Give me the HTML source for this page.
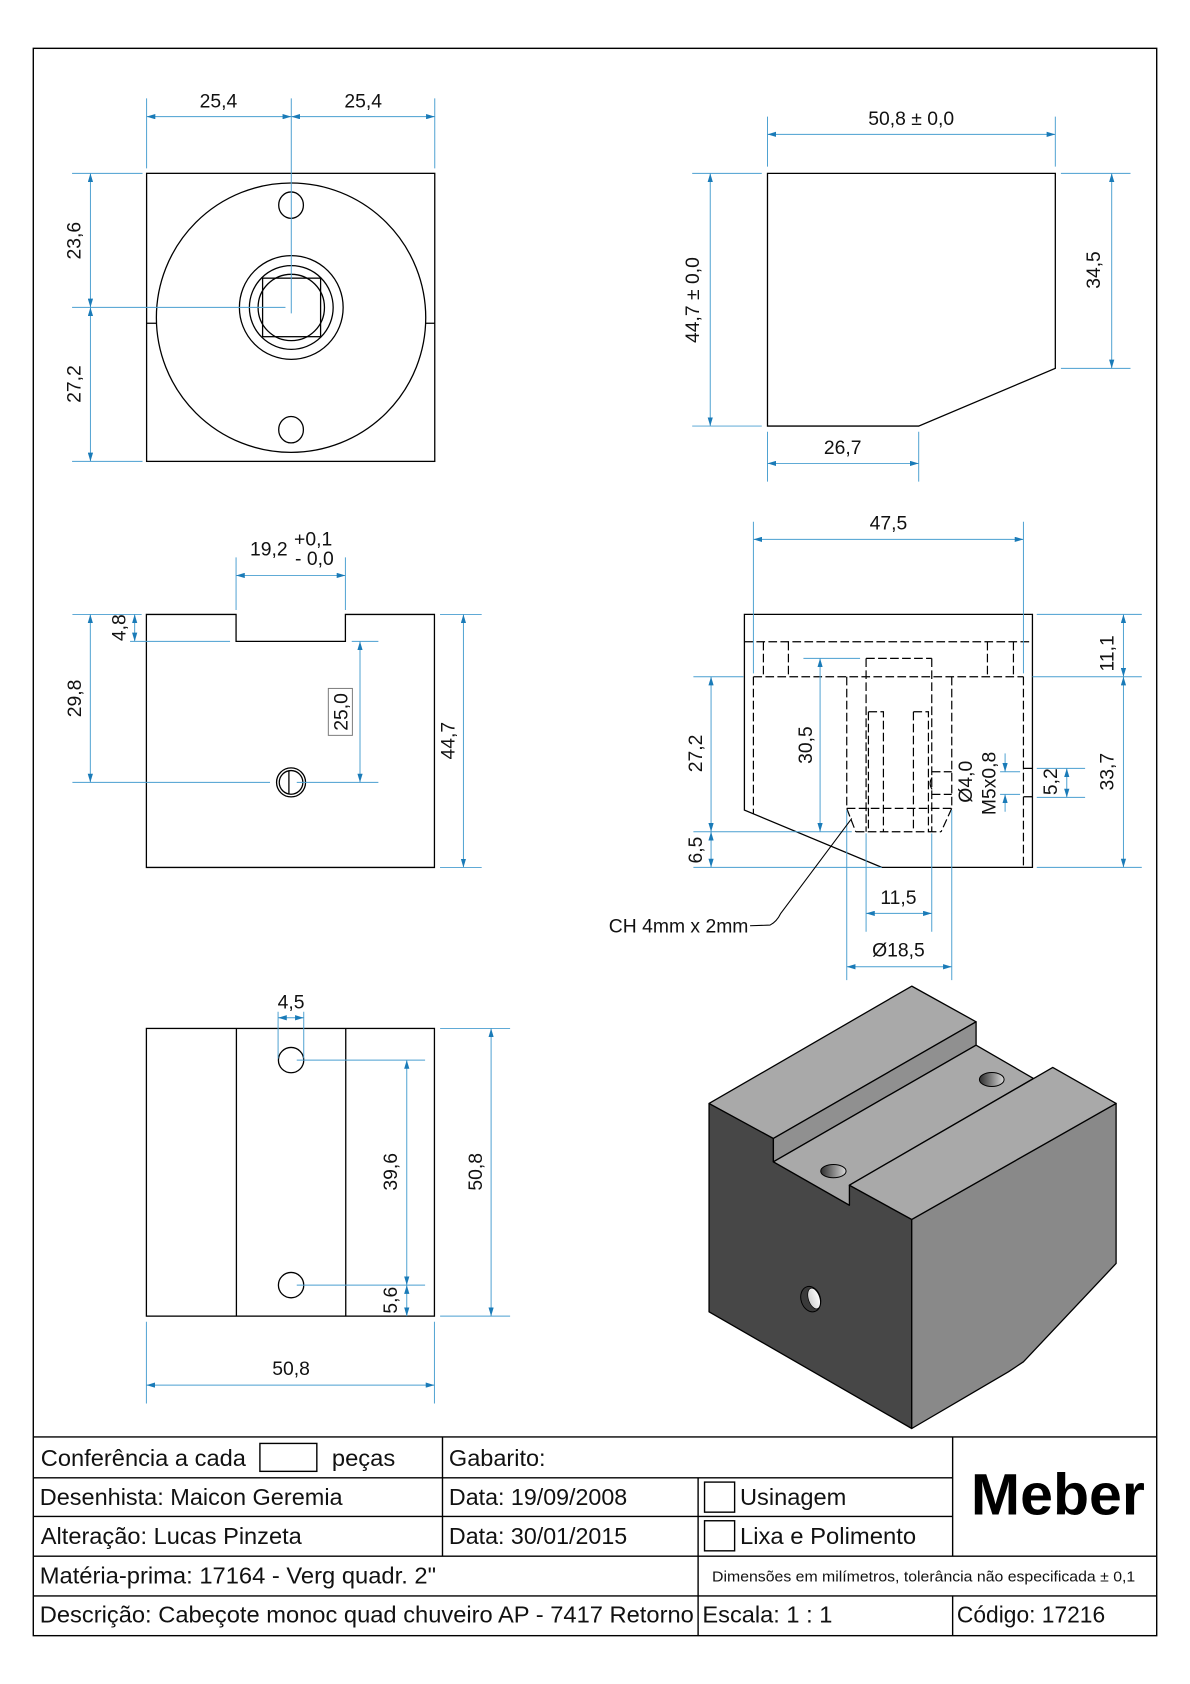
<!DOCTYPE html>
<html><head><meta charset="utf-8">
<style>
html,body{margin:0;padding:0;background:#fff;}
svg{display:block;}
text{font-family:"Liberation Sans",Arial,sans-serif;fill:#111;}
.k{fill:none;stroke:#000;stroke-width:1.2;}
.b{fill:none;stroke:#4a9fd0;stroke-width:0.9;}
.m{fill:none;stroke:#4a9fd0;stroke-width:0.9;marker-start:url(#a);marker-end:url(#a);}
.me{fill:none;stroke:#4a9fd0;stroke-width:0.9;marker-end:url(#a);}
.dt{font-size:18px;}
.tt{font-size:21.7px;}
</style></head><body>
<svg xmlns="http://www.w3.org/2000/svg" width="1190" height="1684" viewBox="0 0 1108 1568" preserveAspectRatio="none">
<defs>
<marker id="a" markerUnits="strokeWidth" markerWidth="9" markerHeight="5.4" viewBox="0 0 9 5.4" refX="9" refY="2.7" orient="auto-start-reverse"><path d="M0,0 L9,2.7 L0,5.4z" fill="#1a7bb8"/></marker>
<linearGradient id="hg" x1="0" y1="0" x2="1" y2="0"><stop offset="0" stop-color="#2e2e2e"/><stop offset="1" stop-color="#d8d8d8"/></linearGradient>
<linearGradient id="hg2" x1="0" y1="0" x2="1" y2="0"><stop offset="0" stop-color="#d0d0d0"/><stop offset="1" stop-color="#ffffff"/></linearGradient>
</defs>
<rect x="0" y="0" width="1108" height="1568" fill="#fff"/>

<!-- border -->
<rect x="31" y="45" width="1046" height="1478" fill="none" stroke="#000" stroke-width="1.3"/>

<!-- ===== VIEW 1 ===== -->
<rect x="136.5" y="161.4" width="268.3" height="268.2" class="k"/>
<circle cx="271" cy="295.8" r="125.4" class="k"/>
<path d="M136.5,301 H145.8 M396.2,301 H404.8" class="k"/>
<ellipse cx="271" cy="191" rx="11.5" ry="12.3" class="k"/>
<ellipse cx="271" cy="400.1" rx="11.5" ry="12.3" class="k"/>
<circle cx="271.2" cy="286.3" r="48.3" class="k"/>
<circle cx="271.2" cy="286.3" r="39" class="k"/>
<circle cx="271.2" cy="286.3" r="30.9" class="k"/>
<rect x="244.5" y="259" width="54" height="54.5" class="k"/>
<path class="b" d="M271.2,91.6 V291.8 M67.1,286.2 H265.8 M136.5,91.6 V156.8 M404.8,91.6 V156.8 M67.1,161.4 H132.7 M67.1,429.6 H132.7"/>
<path class="m" d="M136.5,108.6 H271.2"/>
<path class="m" d="M271.2,108.6 H404.8"/>
<path class="m" d="M84.2,161.4 V286.2"/>
<path class="m" d="M84.2,286.2 V429.6"/>
<text class="dt" x="203.4" y="100" text-anchor="middle">25,4</text>
<text class="dt" x="338.2" y="100" text-anchor="middle">25,4</text>
<text class="dt" transform="translate(68.5,224.1) rotate(-90)" text-anchor="middle" dy="0.36em">23,6</text>
<text class="dt" transform="translate(68.5,357.6) rotate(-90)" text-anchor="middle" dy="0.36em">27,2</text>

<!-- ===== VIEW 2 ===== -->
<polygon points="714.6,161.4 982.6,161.4 982.6,343 855.4,396.7 714.6,396.7" class="k"/>
<path class="b" d="M714.6,108.6 V155.2 M982.6,108.6 V155.2 M644.5,161.4 H709.3 M644.5,396.7 H709.3 M987.8,161.4 H1052.6 M987.8,343 H1052.6 M714.6,402 V448.5 M855.4,402 V448.5"/>
<path class="m" d="M714.6,125.1 H982.6"/>
<path class="m" d="M661.3,161.4 V396.7"/>
<path class="m" d="M1035.1,161.4 V343"/>
<path class="m" d="M714.6,431.5 H855.4"/>
<text class="dt" x="848.4" y="116.4" text-anchor="middle">50,8 ± 0,0</text>
<text class="dt" transform="translate(644.5,279.4) rotate(-90)" text-anchor="middle" dy="0.36em">44,7 ± 0,0</text>
<text class="dt" transform="translate(1017.6,251.4) rotate(-90)" text-anchor="middle" dy="0.36em">34,5</text>
<text class="dt" x="784.6" y="422.8" text-anchor="middle">26,7</text>

<!-- ===== VIEW 3 ===== -->
<polygon points="136.3,572.1 219.8,572.1 219.8,597.2 321.6,597.2 321.6,572.1 404.5,572.1 404.5,807.7 136.3,807.7" class="k"/>
<circle cx="271" cy="728.5" r="13.5" class="k"/>
<circle cx="271" cy="728.5" r="11" class="k"/>
<path d="M269,717.5 V739.5" class="k"/>
<path class="b" d="M219.8,519 V568 M321.6,519 V568 M67.4,572.1 H131.9 M67.4,728.5 H251.4 M276.3,728.5 H352.3 M121.1,597.2 H214.2 M327.5,597.2 H352.3 M409.7,572.1 H448.5 M409.7,807.7 H448.5"/>
<path class="m" d="M219.8,535.8 H321.6"/>
<path class="m" d="M84.1,572.1 V728.5"/>
<path class="m" d="M125.4,572.1 V597.2"/>
<path class="m" d="M335.2,597.2 V728.5"/>
<path class="m" d="M431.5,572.1 V807.7"/>
<text class="dt" x="232.8" y="517.4">19,2</text>
<text class="dt" x="273.8" y="508">+0,1</text>
<text class="dt" x="274.7" y="526.1">- 0,0</text>
<rect x="305.7" y="641" width="22.4" height="43.7" fill="#fff" stroke="#777" stroke-width="0.9"/>
<text class="dt" transform="translate(68.9,650.3) rotate(-90)" text-anchor="middle" dy="0.36em">29,8</text>
<text class="dt" transform="translate(110.2,584.5) rotate(-90)" text-anchor="middle" dy="0.36em">4,8</text>
<text class="dt" transform="translate(316.9,662.9) rotate(-90)" text-anchor="middle" dy="0.36em">25,0</text>
<text class="dt" transform="translate(416.6,689.7) rotate(-90)" text-anchor="middle" dy="0.36em">44,7</text>

<!-- ===== VIEW 4 (hidden lines) ===== -->
<g transform="translate(633.2,465.6) scale(0.3104)">
<path d="M193,343 H1057 V1102 H605 L193,930 Z" fill="none" stroke="#000" stroke-width="3.9"/>
<path fill="none" stroke="#000" stroke-width="3.6" stroke-dasharray="26 10" d="M193,425 H1057 M220,530 H1030 M220,530 V941 M1030,530 V1102 M250,425 V530 M325,425 V530 M922,425 V530 M1000,425 V530 M558,475 H755 M558,475 V995 M755,475 V995 M500,530 V925 M815,530 V925 M500,925 H815 M500,925 L527,995 M815,925 L783,995 M527,995 H783 M565,635 H610 V995 M565,635 V995 M700,635 H745 V995 M700,635 V995 M755,815 H815 M755,883 H815 M1030,805 H1057 M1030,890 H1057"/>
<path d="M756,832 Q744,850 756,868" fill="none" stroke="#000" stroke-width="3.2"/>
<path fill="none" stroke="#4a9fd0" stroke-width="2.9" d="M220,65 V520 M1030,65 V520 M1070,343 H1385 M1057,530 H1385 M1070,1102 H1385 M1070,805 H1215 M1070,892 H1215 M960,815 H1020 M960,883 H1020 M40,530 H190 M40,995 H515 M40,1102 H605 M370,475 H540 M558,1000 V1295 M755,1000 V1295 M500,930 V1440 M815,930 V1440"/>
<path fill="none" stroke="#4a9fd0" stroke-width="2.9" style="marker-start:url(#a);marker-end:url(#a)" d="M220,118 H1030"/>
<path fill="none" stroke="#4a9fd0" stroke-width="2.9" style="marker-start:url(#a);marker-end:url(#a)" d="M1330,343 V530"/>
<path fill="none" stroke="#4a9fd0" stroke-width="2.9" style="marker-start:url(#a);marker-end:url(#a)" d="M1330,530 V1102"/>
<path fill="none" stroke="#4a9fd0" stroke-width="2.9" style="marker-start:url(#a);marker-end:url(#a)" d="M1160,805 V892"/>
<path fill="none" stroke="#4a9fd0" stroke-width="2.9" style="marker-end:url(#a)" d="M975,760 V815"/>
<path fill="none" stroke="#4a9fd0" stroke-width="2.9" style="marker-end:url(#a)" d="M975,935 V883"/>
<path fill="none" stroke="#4a9fd0" stroke-width="2.9" style="marker-start:url(#a);marker-end:url(#a)" d="M93,530 V995"/>
<path fill="none" stroke="#4a9fd0" stroke-width="2.9" style="marker-start:url(#a);marker-end:url(#a)" d="M93,995 V1102"/>
<path fill="none" stroke="#4a9fd0" stroke-width="2.9" style="marker-start:url(#a);marker-end:url(#a)" d="M420,475 V995"/>
<path fill="none" stroke="#4a9fd0" stroke-width="2.9" style="marker-start:url(#a);marker-end:url(#a)" d="M558,1240 H755"/>
<path fill="none" stroke="#4a9fd0" stroke-width="2.9" style="marker-start:url(#a);marker-end:url(#a)" d="M500,1400 H815"/>
<path d="M210,1277 L270,1275 Q290,1265 302,1240 L515,955" fill="none" stroke="#000" stroke-width="3.2"/>
<g style="font-size:58px">
<text x="625" y="88" text-anchor="middle">47,5</text>
<text transform="translate(1280,460) rotate(-90)" text-anchor="middle" dy="0.36em">11,1</text>
<text transform="translate(1280,815) rotate(-90)" text-anchor="middle" dy="0.36em">33,7</text>
<text transform="translate(1110,845) rotate(-90)" text-anchor="middle" dy="0.36em">5,2</text>
<text transform="translate(925,850) rotate(-90)" text-anchor="middle" dy="0.36em">M5x0,8</text>
<text transform="translate(855,845) rotate(-90)" text-anchor="middle" dy="0.36em">Ø4,0</text>
<text transform="translate(45,760) rotate(-90)" text-anchor="middle" dy="0.36em">27,2</text>
<text transform="translate(45,1050) rotate(-90)" text-anchor="middle" dy="0.36em">6,5</text>
<text transform="translate(375,735) rotate(-90)" text-anchor="middle" dy="0.36em">30,5</text>
<text x="655" y="1212" text-anchor="middle">11,5</text>
<text x="655" y="1370" text-anchor="middle">Ø18,5</text>
<text x="205" y="1297" text-anchor="end">CH 4mm x 2mm</text>
</g>
</g>

<!-- ===== VIEW 5 ===== -->
<g transform="translate(121.1,921.9) scale(0.3104)">
<rect x="49" y="115" width="864" height="863" fill="none" stroke="#000" stroke-width="3.9"/>
<path d="M319,115 V978 M647,115 V978" fill="none" stroke="#000" stroke-width="3.9"/>
<circle cx="483" cy="210" r="38" fill="none" stroke="#000" stroke-width="3.9"/>
<circle cx="483" cy="885" r="38" fill="none" stroke="#000" stroke-width="3.9"/>
<path fill="none" stroke="#4a9fd0" stroke-width="2.9" d="M444,65 V205 M521,65 V205 M500,210 H885 M500,885 H885 M930,115 H1140 M930,978 H1140 M49,995 V1240 M913,995 V1240"/>
<path fill="none" stroke="#4a9fd0" stroke-width="2.9" style="marker-start:url(#a);marker-end:url(#a)" d="M444,83 H521"/>
<path fill="none" stroke="#4a9fd0" stroke-width="2.9" style="marker-start:url(#a);marker-end:url(#a)" d="M830,210 V885"/>
<path fill="none" stroke="#4a9fd0" stroke-width="2.9" style="marker-start:url(#a);marker-end:url(#a)" d="M830,885 V978"/>
<path fill="none" stroke="#4a9fd0" stroke-width="2.9" style="marker-start:url(#a);marker-end:url(#a)" d="M1083,115 V978"/>
<path fill="none" stroke="#4a9fd0" stroke-width="2.9" style="marker-start:url(#a);marker-end:url(#a)" d="M49,1185 H913"/>
<g style="font-size:58px">
<text x="483" y="55" text-anchor="middle">4,5</text>
<text transform="translate(780,545) rotate(-90)" text-anchor="middle" dy="0.36em">39,6</text>
<text transform="translate(780,930) rotate(-90)" text-anchor="middle" dy="0.36em">5,6</text>
<text transform="translate(1035,545) rotate(-90)" text-anchor="middle" dy="0.36em">50,8</text>
<text x="483" y="1155" text-anchor="middle">50,8</text>
</g>
</g>

<!-- ===== ISOMETRIC ===== -->
<g transform="translate(642.5,903.3) scale(0.3104)" stroke="#000" stroke-width="3.9" stroke-linejoin="round">
<polygon points="57,400 250,505 250,575 478,705 478,645 665,748 665,1375 57,1025" fill="#474747"/>
<polygon points="665,748 1278,400 1278,880 1000,1175 955,1205 665,1375" fill="#898989"/>
<polygon points="57,400 665,48 858,155 250,505" fill="#a9a9a9"/>
<polygon points="250,505 858,155 858,225 250,575" fill="#909090"/>
<polygon points="250,575 858,225 1030,325 478,645 478,705" fill="#a9a9a9"/>
<polygon points="478,645 1088,292 1278,400 665,748" fill="#a9a9a9"/>
<ellipse cx="430" cy="603" rx="38" ry="20" fill="url(#hg)" stroke-width="3"/>
<ellipse cx="905" cy="328" rx="37" ry="21" fill="url(#hg)" stroke-width="3"/>
<ellipse cx="362" cy="987" rx="29" ry="39" transform="rotate(-18 362 987)" fill="#3a3a3a" stroke-width="3"/>
<ellipse cx="372" cy="985" rx="17" ry="32" transform="rotate(-18 372 985)" fill="url(#hg2)" stroke-width="2"/>
</g>

<!-- ===== TITLE BLOCK ===== -->
<g fill="none" stroke="#000" stroke-width="1.3">
<path d="M31,1338 H1077 M31,1376 H887 M31,1412 H887 M31,1449 H1077 M31,1486 H1077"/>
<path d="M412,1338 V1449 M650,1376 V1523 M887,1338 V1449 M887,1486 V1523"/>
<rect x="242" y="1344" width="53" height="26"/>
<rect x="656" y="1380" width="28" height="28"/>
<rect x="656" y="1416" width="28" height="28"/>
</g>
<text class="tt" x="38" y="1364.8" textLength="191" lengthAdjust="spacingAndGlyphs">Conferência a cada</text>
<text class="tt" x="309" y="1364.8" textLength="59" lengthAdjust="spacingAndGlyphs">peças</text>
<text class="tt" x="418" y="1364.8" textLength="90" lengthAdjust="spacingAndGlyphs">Gabarito:</text>
<text class="tt" x="37" y="1401.5" textLength="282" lengthAdjust="spacingAndGlyphs">Desenhista: Maicon Geremia</text>
<text class="tt" x="418" y="1401.5" textLength="166" lengthAdjust="spacingAndGlyphs">Data: 19/09/2008</text>
<text class="tt" x="689" y="1401.5" textLength="99" lengthAdjust="spacingAndGlyphs">Usinagem</text>
<text class="tt" x="38" y="1437.8" textLength="243" lengthAdjust="spacingAndGlyphs">Alteração: Lucas Pinzeta</text>
<text class="tt" x="418" y="1437.8" textLength="166" lengthAdjust="spacingAndGlyphs">Data: 30/01/2015</text>
<text class="tt" x="689" y="1437.8" textLength="164" lengthAdjust="spacingAndGlyphs">Lixa e Polimento</text>
<text class="tt" x="37" y="1474.4" textLength="369" lengthAdjust="spacingAndGlyphs">Matéria-prima: 17164 - Verg quadr. 2"</text>
<text x="663" y="1472.5" style="font-size:14px" textLength="394" lengthAdjust="spacingAndGlyphs">Dimensões em milímetros, tolerância não especificada ± 0,1</text>
<text class="tt" x="37" y="1510.7" textLength="609" lengthAdjust="spacingAndGlyphs">Descrição: Cabeçote monoc quad chuveiro AP - 7417 Retorno</text>
<text class="tt" x="654" y="1510.7" textLength="121" lengthAdjust="spacingAndGlyphs">Escala: 1 : 1</text>
<text class="tt" x="891" y="1510.7" textLength="138" lengthAdjust="spacingAndGlyphs">Código: 17216</text>
<text x="904" y="1410" style="font-size:54px;font-weight:bold;fill:#000" textLength="162" lengthAdjust="spacingAndGlyphs">Meber</text>
</svg>
</body></html>
